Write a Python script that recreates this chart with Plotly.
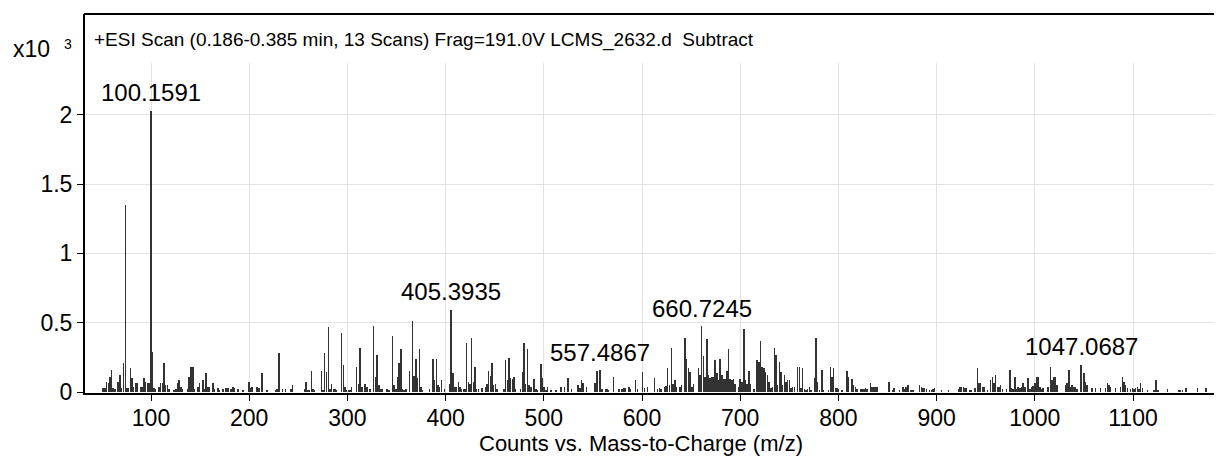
import plotly.graph_objects as go

# ---------------- data (m/z, counts in units of 10^3) ----------------
mz = [
    51.3, 53.1, 54.8, 56.8, 58.2, 59.9, 61.5, 63.3, 66.6, 68.4, 70.1, 71.8, 73.8, 75.5, 77.2,
    78.9, 80.6, 82.4, 84.0, 85.7, 89.5, 91.1, 92.9, 94.6, 96.2, 98.0, 100.1591, 101.2, 103.1,
    104.8, 108.2, 109.9, 111.6, 113.3, 115.0, 116.7, 118.4, 123.5, 125.2, 126.9, 128.6, 130.3,
    131.9, 137.0, 138.8, 140.5, 142.6, 144.2, 147.6, 149.3, 152.7, 154.4, 156.1, 157.8, 159.5,
    162.9, 164.6, 168.0, 169.7, 173.1, 176.5, 178.2, 181.6, 183.3, 185.0, 188.4, 193.5, 199.7,
    201.4, 203.1, 208.2, 209.9, 213.3, 218.2, 227.2, 228.2, 230.3, 233.8, 237.2, 242.5, 244.2,
    256.5, 258.0, 259.9, 261.6, 263.3, 265.0, 266.6, 273.5, 275.2, 276.9, 278.9, 280.6, 282.3,
    284.0, 285.7, 287.4, 289.1, 294.2, 295.9, 297.6, 299.3, 301.0, 302.7, 304.4, 309.5, 311.2,
    313.0, 314.6, 318.0, 319.7, 323.1, 326.8, 328.6, 330.3, 332.0, 333.7, 335.4, 340.5, 342.1,
    345.9, 347.6, 349.3, 351.0, 352.7, 354.4, 356.1, 357.8, 359.5, 363.0, 366.3, 368.0, 369.7,
    371.4, 373.2, 374.8, 376.5, 383.7, 387.0, 388.8, 390.5, 392.1, 393.9, 395.6, 399.0, 404.4,
    405.3935, 407.8, 409.5, 411.2, 413.0, 414.6, 416.3, 418.1, 419.7, 421.4, 423.2, 424.8, 426.5,
    428.3, 429.9, 431.6, 433.4, 437.0, 440.5, 442.1, 443.9, 445.6, 447.3, 449.0, 450.7, 452.3,
    459.5, 461.2, 463.0, 464.6, 466.3, 468.1, 469.7, 471.4, 476.5, 478.3, 479.9, 481.6, 483.4,
    485.0, 486.7, 490.1, 491.8, 493.6, 496.9, 498.7, 500.3, 502.0, 503.8, 507.1, 512.6, 517.7,
    521.1, 524.8, 528.2, 535.0, 536.7, 538.5, 540.1, 543.6, 552.3, 554.1, 557.4867, 559.2, 562.6,
    564.3, 566.0, 571.1, 576.5, 579.9, 581.6, 583.4, 586.7, 588.5, 593.6, 595.6, 600.7, 602.4,
    605.8, 612.6, 616.0, 617.7, 619.4, 622.8, 624.5, 626.2, 627.9, 629.9, 631.6, 633.4, 635.0,
    638.5, 640.1, 643.6, 645.2, 647.3, 649.0, 650.7, 652.4, 657.5, 659.2, 660.7245, 662.6, 664.3,
    666.0, 667.7, 669.4, 671.1, 672.8, 674.5, 676.2, 677.9, 679.6, 681.3, 682.9, 684.7, 686.4,
    688.1, 689.8, 691.5, 693.2, 694.9, 698.3, 700.0, 701.7, 703.8, 705.4, 707.1, 708.9, 710.5,
    713.9, 717.3, 719.1, 720.7, 722.4, 724.2, 725.8, 727.6, 729.3, 731.3, 733.0, 734.7, 736.4,
    738.1, 739.8, 741.5, 743.2, 744.9, 746.6, 748.3, 750.0, 751.7, 753.4, 755.1, 758.5, 760.2,
    761.9, 763.6, 765.3, 767.0, 768.7, 770.4, 772.1, 775.5, 777.2, 778.9, 780.6, 783.3, 785.0,
    790.1, 791.8, 793.6, 795.2, 796.9, 798.7, 800.3, 803.8, 808.9, 810.5, 814.0, 815.6, 817.3,
    819.1, 822.4, 824.2, 825.8, 827.6, 829.3, 832.7, 834.4, 836.1, 837.8, 839.5, 851.7, 855.1,
    856.8, 862.2, 865.6, 867.3, 869.1, 870.7, 874.2, 875.8, 882.7, 884.4, 886.1, 887.8, 889.5,
    892.9, 894.6, 896.2, 898.0, 905.1, 911.9, 922.1, 923.8, 925.5, 927.2, 928.9, 930.6, 934.0,
    935.7, 939.1, 941.5, 943.2, 944.9, 946.6, 948.3, 951.7, 955.1, 956.8, 958.5, 960.2, 961.9,
    963.6, 965.3, 967.0, 971.1, 974.5, 976.2, 977.9, 979.6, 981.3, 983.0, 984.7, 986.4, 988.1,
    989.8, 993.2, 994.9, 996.6, 998.3, 1000.0, 1001.7, 1003.4, 1005.1, 1006.8, 1008.5, 1013.6,
    1016.0, 1017.7, 1019.4, 1021.1, 1022.8, 1031.3, 1033.0, 1034.7, 1036.4, 1038.1, 1039.8,
    1041.5, 1043.2, 1047.0687, 1050.0, 1051.7, 1053.4, 1058.5, 1062.0, 1067.0, 1072.1, 1073.8,
    1075.5, 1077.2, 1082.3, 1087.4, 1089.1, 1090.8, 1092.5, 1094.2, 1097.6, 1099.3, 1101.0,
    1102.7, 1104.4, 1106.1, 1107.8, 1109.5, 1114.6, 1121.4, 1123.2, 1125.2, 1135.0, 1147.0,
    1148.6, 1150.3, 1153.8, 1165.6, 1174.2, 1190.1,
]
counts_k = [
    0.026, 0.026, 0.075, 0.062, 0.11, 0.16, 0.026, 0.019, 0.074, 0.12, 0.026, 0.21, 1.35, 0.026, 0.026,
    0.17, 0.10, 0.038, 0.062, 0.062, 0.034, 0.034, 0.10, 0.075, 0.062, 0.062, 2.03, 0.29, 0.026,
    0.019, 0.034, 0.062, 0.067, 0.21, 0.05, 0.05, 0.019, 0.01, 0.019, 0.062, 0.087, 0.034,
    0.019, 0.019, 0.11, 0.18, 0.18, 0.019, 0.034, 0.062, 0.087, 0.019, 0.14, 0.034, 0.034,
    0.062, 0.019, 0.026, 0.014, 0.019, 0.026, 0.026, 0.019, 0.034, 0.026, 0.019, 0.014, 0.075,
    0.026, 0.034, 0.034, 0.026, 0.135, 0.018, 0.012, 0.024, 0.283, 0.025, 0.025, 0.024, 0.05,
    0.024, 0.075, 0.012, 0.012, 0.15, 0.024, 0.012, 0.155, 0.012, 0.283, 0.147, 0.466, 0.019,
    0.06, 0.024, 0.024, 0.012, 0.428, 0.195, 0.036, 0.017, 0.012, 0.017, 0.036, 0.18, 0.06,
    0.315, 0.036, 0.055, 0.036, 0.024, 0.476, 0.108, 0.267, 0.048, 0.024, 0.024, 0.024, 0.012,
    0.404, 0.048, 0.024, 0.11, 0.211, 0.307, 0.024, 0.017, 0.024, 0.155, 0.514, 0.115, 0.24,
    0.10, 0.307, 0.036, 0.012, 0.024, 0.235, 0.085, 0.235, 0.048, 0.036, 0.084, 0.024, 0.06,
    0.595, 0.14, 0.036, 0.036, 0.072, 0.036, 0.024, 0.024, 0.024, 0.356, 0.072, 0.06, 0.387,
    0.072, 0.18, 0.024, 0.024, 0.029, 0.036, 0.06, 0.155, 0.115, 0.21, 0.048, 0.06, 0.024,
    0.024, 0.233, 0.084, 0.245, 0.10, 0.097, 0.11, 0.024, 0.024, 0.147, 0.356, 0.06, 0.307,
    0.048, 0.036, 0.097, 0.024, 0.012, 0.205, 0.10, 0.036, 0.012, 0.036, 0.014, 0.014, 0.034,
    0.034, 0.10, 0.019, 0.05, 0.026, 0.087, 0.066, 0.034, 0.062, 0.153, 0.158, 0.019, 0.019,
    0.019, 0.014, 0.11, 0.019, 0.019, 0.026, 0.026, 0.034, 0.019, 0.087, 0.019, 0.146, 0.026,
    0.034, 0.10, 0.019, 0.026, 0.019, 0.034, 0.045, 0.17, 0.048, 0.32, 0.06, 0.085, 0.036,
    0.036, 0.048, 0.392, 0.24, 0.17, 0.145, 0.036, 0.06, 0.17, 0.12, 0.476, 0.257, 0.108,
    0.38, 0.12, 0.103, 0.108, 0.108, 0.233, 0.14, 0.084, 0.24, 0.12, 0.097, 0.097, 0.155,
    0.307, 0.097, 0.084, 0.097, 0.06, 0.036, 0.097, 0.072, 0.452, 0.084, 0.06, 0.155, 0.06,
    0.024, 0.233, 0.215, 0.368, 0.18, 0.17, 0.145, 0.12, 0.072, 0.026, 0.038, 0.315, 0.267,
    0.05, 0.22, 0.147, 0.05, 0.12, 0.074, 0.087, 0.087, 0.026, 0.034, 0.034, 0.183, 0.183,
    0.026, 0.17, 0.019, 0.01, 0.019, 0.034, 0.014, 0.10, 0.392, 0.074, 0.01, 0.16, 0.01,
    0.01, 0.183, 0.11, 0.17, 0.026, 0.026, 0.019, 0.01, 0.152, 0.11, 0.094, 0.05, 0.034,
    0.019, 0.019, 0.019, 0.019, 0.026, 0.019, 0.063, 0.038, 0.034, 0.034, 0.034, 0.075, 0.014,
    0.026, 0.01, 0.034, 0.019, 0.034, 0.05, 0.014, 0.014, 0.05, 0.034, 0.026, 0.026, 0.019,
    0.014, 0.01, 0.019, 0.026, 0.014, 0.01, 0.019, 0.034, 0.034, 0.034, 0.026, 0.026, 0.014,
    0.014, 0.026, 0.17, 0.062, 0.062, 0.038, 0.034, 0.014, 0.087, 0.11, 0.062, 0.12, 0.034,
    0.038, 0.05, 0.019, 0.019, 0.16, 0.026, 0.019, 0.11, 0.019, 0.034, 0.026, 0.034, 0.063,
    0.034, 0.10, 0.019, 0.034, 0.043, 0.062, 0.11, 0.11, 0.034, 0.019, 0.026, 0.034,
    0.183, 0.085, 0.105, 0.11, 0.05, 0.05, 0.062, 0.16, 0.034, 0.05, 0.034,
    0.034, 0.019, 0.195, 0.14, 0.075, 0.05, 0.026, 0.026, 0.026, 0.026, 0.063,
    0.05, 0.034, 0.026, 0.034, 0.11, 0.074, 0.05, 0.026, 0.019, 0.026, 0.019,
    0.026, 0.034, 0.019, 0.063, 0.026, 0.01, 0.01, 0.085, 0.01, 0.019, 0.01,
    0.01, 0.014, 0.026, 0.026, 0.026, 0.019,
]
labeled_mz = [100.1591, 405.3935, 557.4867, 660.7245, 1047.0687]
x_ticks = [100, 200, 300, 400, 500, 600, 700, 800, 900, 1000, 1100]
y_ticks = [0, 0.5, 1, 1.5, 2]
y_tick_text = ["0", "0.5", "1", "1.5", "2"]
title_text = "+ESI Scan (0.186-0.385 min, 13 Scans) Frag=191.0V LCMS_2632.d  Subtract"
x_title = "Counts vs. Mass-to-Charge (m/z)"
scale_text = "x10"
scale_exp = "3"

# ---------------- layout geometry (page pixel coordinates) ----------------
PAGE_W, PAGE_H = 1222, 456
OFF = 8                              # default body margin of the page
W, H = PAGE_W - OFF, PAGE_H - OFF    # figure size so it ends at the window edge
PLOT_LEFT, PLOT_TOP, PLOT_BOTTOM = 85, 63, 393   # in page pixels
L = PLOT_LEFT - OFF
T = PLOT_TOP - OFF
B = PAGE_H - PLOT_BOTTOM
R = 0
PH = H - T - B
PW = W - L - R
FRAME_TOP = 14
FONT = "Liberation Sans, Arial, Helvetica, sans-serif"


def py_paper(py):
    return (PLOT_BOTTOM - py) / PH


def px_paper(px):
    return (px - PLOT_LEFT) / PW


fig = go.Figure()
fig.add_trace(go.Bar(
    x=mz, y=counts_k, width=0.55,
    marker=dict(color="#333333", line=dict(width=0)),
    hoverinfo="x+y", showlegend=False,
))

annotations = []
for m in labeled_mz:
    h = counts_k[mz.index(m)]
    annotations.append(dict(
        x=m, y=h, xref="x", yref="y", text=f"{m:.4f}", showarrow=False,
        xanchor="center", yanchor="middle", yshift=18,
        font=dict(family=FONT, size=24, color="#000"),
    ))

annotations.append(dict(
    x=px_paper(92), y=py_paper(40), xref="paper", yref="paper",
    text=title_text, showarrow=False, xanchor="left", yanchor="middle",
    font=dict(family=FONT, size=19, color="#000"),
))
annotations.append(dict(
    x=px_paper(11), y=py_paper(49), xref="paper", yref="paper",
    text=scale_text, showarrow=False, xanchor="left", yanchor="middle",
    font=dict(family=FONT, size=23, color="#000"),
))
annotations.append(dict(
    x=px_paper(62), y=py_paper(44), xref="paper", yref="paper",
    text=scale_exp, showarrow=False, xanchor="left", yanchor="middle",
    font=dict(family=FONT, size=14, color="#000"),
))
annotations.append(dict(
    x=px_paper(641), y=py_paper(443), xref="paper", yref="paper",
    text=x_title, showarrow=False, xanchor="center", yanchor="middle",
    font=dict(family=FONT, size=22, color="#000"),
))

top_y = py_paper(FRAME_TOP)
shapes = [
    dict(type="line", xref="paper", yref="paper", x0=px_paper(84), x1=1.01, y0=top_y, y1=top_y,
         line=dict(color="#000", width=2)),
    dict(type="line", xref="paper", yref="paper", x0=px_paper(84), x1=px_paper(84),
         y0=0.99, y1=top_y, line=dict(color="#000", width=2)),
]

xpx_per_unit = 0.982
ypx_per_unit = 138.6
x_min = 100 - (151 - PLOT_LEFT) / xpx_per_unit
x_max = x_min + PW / xpx_per_unit
y_min = -(PLOT_BOTTOM - 392) / ypx_per_unit
y_max = y_min + PH / ypx_per_unit

fig.update_layout(
    width=W, height=H,
    margin=dict(l=L, r=R, t=T, b=B, pad=0),
    paper_bgcolor="white", plot_bgcolor="white",
    font=dict(family=FONT, size=23, color="#000"),
    bargap=0,
    annotations=annotations,
    shapes=shapes,
    xaxis=dict(
        range=[x_min, x_max], tickvals=x_ticks, ticks="outside", ticklen=6, tickwidth=1,
        tickcolor="#000", showline=True, linecolor="#000", linewidth=2,
        showgrid=True, gridcolor="#e3e3e3", gridwidth=1, zeroline=False,
        ticklabelstandoff=-3,
        tickfont=dict(family=FONT, size=23, color="#000"),
    ),
    yaxis=dict(
        range=[y_min, y_max], tickvals=y_ticks, ticktext=y_tick_text, ticks="outside",
        ticklen=6, tickwidth=1, tickcolor="#000", showline=True, linecolor="#000", linewidth=2,
        showgrid=True, gridcolor="#e3e3e3", gridwidth=1, zeroline=False,
        tickfont=dict(family=FONT, size=23, color="#000"),
    ),
)

fig.write_html("out.html")
